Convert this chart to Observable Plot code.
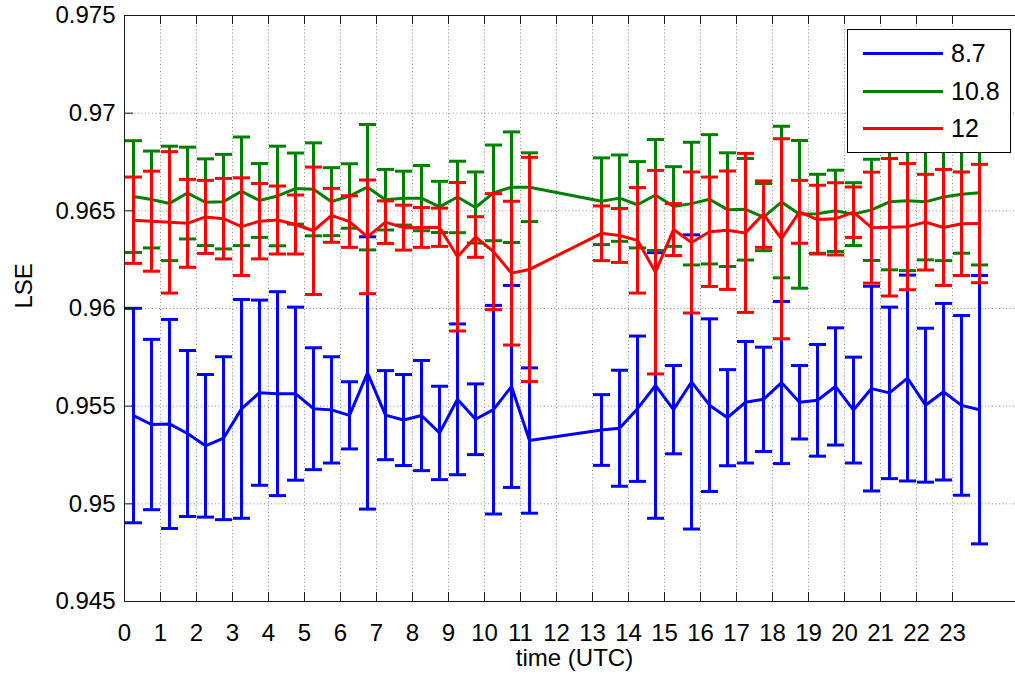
<!DOCTYPE html>
<html>
<head>
<meta charset="utf-8">
<script src="https://cdn.jsdelivr.net/npm/d3@7"></script>
<script src="https://cdn.jsdelivr.net/npm/@observablehq/plot@0.6"></script>
<style>
  html, body { margin: 0; padding: 0; background: #fff; overflow: hidden; }
  #wrap { position: relative; width: 1015px; height: 681px; overflow: hidden; }
  #chart svg { max-width: none !important; width: 1030px !important; height: 681px !important; }
  #legend { position: absolute; left: 847px; top: 29px; width: 162px; height: 122px;
            border: 1px solid #000; background: #fff;
            font-family: "Liberation Sans", Arial, sans-serif; font-size: 25px; }
  .lg-row { position: absolute; left: 0; height: 0; }
  .lg-line { position: absolute; left: 15px; width: 80px; height: 3px; top: -1.5px; }
  .lg-text { position: absolute; left: 103px; top: -15px; line-height: 30px; color: #000; }
</style>
</head>
<body>
<div id="wrap"><div id="chart"></div><div id="legend"></div></div>
<script>
// ---- data ----
const hours = [0.25,0.75,1.25,1.75,2.25,2.75,3.25,3.75,4.25,4.75,5.25,5.75,6.25,6.75,7.25,7.75,8.25,8.75,9.25,9.75,10.25,10.75,11.25,
               13.25,13.75,14.25,14.75,15.25,15.75,16.25,16.75,17.25,17.75,18.25,18.75,19.25,19.75,20.25,20.75,21.25,21.75,22.25,22.75,23.25,23.75];

const mean87 = [0.95452,0.95406,0.95409,0.95360,0.95297,0.95336,0.95486,0.95569,0.95564,0.95564,0.95487,0.95481,0.95453,0.95670,0.95454,0.95429,0.95452,0.95363,0.95535,0.95433,0.95482,0.95601,0.95324,
                0.95378,0.95387,0.95487,0.95606,0.95482,0.95624,0.95505,0.95441,0.95520,0.95535,0.95621,0.95520,0.95530,0.95601,0.95480,0.95590,0.95568,0.95644,0.95505,0.95574,0.95504,0.95482];
const err87  = [0.00549,0.00436,0.00535,0.00425,0.00365,0.00417,0.00560,0.00474,0.00522,0.00443,0.00312,0.00272,0.00172,0.00697,0.00228,0.00233,0.00282,0.00239,0.00386,0.00181,0.00534,0.00517,0.00372,
                0.00181,0.00297,0.00372,0.00680,0.00226,0.00753,0.00442,0.00246,0.00311,0.00267,0.00415,0.00188,0.00286,0.00300,0.00271,0.00524,0.00439,0.00527,0.00394,0.00452,0.00460,0.00687];

const mean108 = [0.96573,0.96558,0.96538,0.96591,0.96544,0.96547,0.96600,0.96553,0.96576,0.96614,0.96610,0.96547,0.96576,0.96621,0.96557,0.96565,0.96565,0.96520,0.96571,0.96517,0.96592,0.96621,0.96621,
                 0.96549,0.96565,0.96531,0.96581,0.96522,0.96537,0.96559,0.96506,0.96508,0.96468,0.96545,0.96482,0.96485,0.96500,0.96483,0.96505,0.96546,0.96551,0.96546,0.96571,0.96585,0.96593];
const err108  = [0.00286,0.00248,0.00293,0.00235,0.00222,0.00242,0.00278,0.00189,0.00255,0.00182,0.00238,0.00174,0.00165,0.00321,0.00155,0.00138,0.00167,0.00131,0.00183,0.00182,0.00245,0.00283,0.00176,
                 0.00222,0.00221,0.00221,0.00284,0.00204,0.00314,0.00331,0.00291,0.00260,0.00172,0.00388,0.00378,0.00202,0.00208,0.00161,0.00259,0.00348,0.00357,0.00297,0.00326,0.00302,0.00370];

const mean12 = [0.96452,0.96447,0.96441,0.96436,0.96469,0.96460,0.96419,0.96447,0.96453,0.96430,0.96398,0.96477,0.96445,0.96367,0.96442,0.96414,0.96415,0.96416,0.96265,0.96366,0.96291,0.96181,0.96200,
                0.96385,0.96374,0.96349,0.96186,0.96404,0.96338,0.96393,0.96401,0.96387,0.96483,0.96357,0.96495,0.96455,0.96459,0.96493,0.96414,0.96416,0.96419,0.96442,0.96415,0.96434,0.96435];
const err12  = [0.00221,0.00256,0.00362,0.00225,0.00187,0.00206,0.00250,0.00193,0.00174,0.00151,0.00326,0.00138,0.00132,0.00291,0.00109,0.00115,0.00102,0.00098,0.00380,0.00104,0.00297,0.00368,0.00574,
                0.00140,0.00138,0.00270,0.00521,0.00133,0.00361,0.00280,0.00303,0.00407,0.00170,0.00512,0.00161,0.00176,0.00185,0.00129,0.00284,0.00352,0.00323,0.00245,0.00297,0.00265,0.00303];

const seriesNames = ["8.7", "10.8", "12"];
const seriesColors = ["#0000ff", "#008000", "#ff0000"];
const seriesMeans = [mean87, mean108, mean12];
const seriesErrs = [err87, err108, err12];

const xTicks = d3.range(0, 24);
const xTickLabels = xTicks.map(String);
const yTicks = [0.945, 0.95, 0.955, 0.96, 0.965, 0.97, 0.975];
const yTickLabels = ["0.945", "0.95", "0.955", "0.96", "0.965", "0.97", "0.975"];
const xLabel = "time (UTC)";
const yLabel = "LSE";

// ---- build tables ----
const series = seriesNames.map((name, k) => ({
  name, color: seriesColors[k],
  rows: hours.map((t, i) => ({t, mean: seriesMeans[k][i], lo: seriesMeans[k][i] - seriesErrs[k][i], hi: seriesMeans[k][i] + seriesErrs[k][i]}))
}));

const cap = { draw(ctx) { ctx.moveTo(-8.5, 0); ctx.lineTo(8.5, 0); } };

const W = 1030, H = 681, mL = 124, mR = 6, mT = 15, mB = 80;
const plotW = W - mL - mR, plotH = H - mT - mB;
const font = "'Liberation Sans', Arial, Helvetica, sans-serif";
const gridStyle = {stroke: "#8c8c8c", strokeDasharray: "1,2.5", strokeWidth: 1};
const axisColor = "#1a1a1a";

const chart = Plot.plot({
  width: W, height: H,
  marginLeft: mL, marginRight: mR, marginTop: mT, marginBottom: mB,
  x: {domain: [0, 25]},
  y: {domain: [0.945, 0.975]},
  style: {fontFamily: font, fontSize: "24px", background: "#fff", color: "#000", maxWidth: "none"},
  marks: [
    Plot.ruleX(xTicks, gridStyle),
    Plot.ruleY(yTicks, gridStyle),
    ...series.flatMap(s => [
      Plot.ruleX(s.rows, {x: "t", y1: "lo", y2: "hi", stroke: s.color, strokeWidth: 3}),
      Plot.dot(s.rows, {x: "t", y: "lo", symbol: cap, r: 8, fill: "none", stroke: s.color, strokeWidth: 3}),
      Plot.dot(s.rows, {x: "t", y: "hi", symbol: cap, r: 8, fill: "none", stroke: s.color, strokeWidth: 3}),
      Plot.line(s.rows, {x: "t", y: "mean", stroke: s.color, strokeWidth: 3, strokeLinejoin: "round"})
    ]),
    // axes box
    Plot.ruleX([0], {stroke: axisColor, strokeWidth: 1}),
    Plot.ruleY([0.945], {stroke: axisColor, strokeWidth: 1}),
    Plot.ruleY([0.975], {stroke: axisColor, strokeWidth: 1}),
    // inward ticks
    Plot.ruleX(xTicks, {stroke: axisColor, insetTop: plotH - 9}),
    Plot.ruleX(xTicks, {stroke: axisColor, insetBottom: plotH - 9}),
    Plot.ruleY(yTicks, {stroke: axisColor, insetRight: plotW - 9}),
    Plot.axisX({ticks: xTicks, tickSize: 0, tickPadding: 22, tickFormat: d => xTickLabels[xTicks.indexOf(d)], label: null, fontSize: 24}),
    Plot.axisY({ticks: yTicks, tickSize: 0, tickPadding: 9, tickFormat: d => yTickLabels[yTicks.indexOf(d)], label: null, fontSize: 24}),
    Plot.text([xLabel], {frameAnchor: "bottom", dy: 64, fontSize: 24, fill: "#000"}),
    Plot.text([yLabel], {frameAnchor: "left", dx: -100, rotate: -90, fontSize: 24, fill: "#000"})
  ]
});
document.getElementById("chart").appendChild(chart);

// ---- legend ----
const legend = document.getElementById("legend");
const rowTops = [23, 61, 98];
series.forEach((s, k) => {
  const row = document.createElement("div");
  row.className = "lg-row";
  row.style.top = rowTops[k] + "px";
  const line = document.createElement("div");
  line.className = "lg-line";
  line.style.background = s.color;
  const txt = document.createElement("div");
  txt.className = "lg-text";
  txt.textContent = s.name;
  row.appendChild(line); row.appendChild(txt);
  legend.appendChild(row);
});
</script>
</body>
</html>
